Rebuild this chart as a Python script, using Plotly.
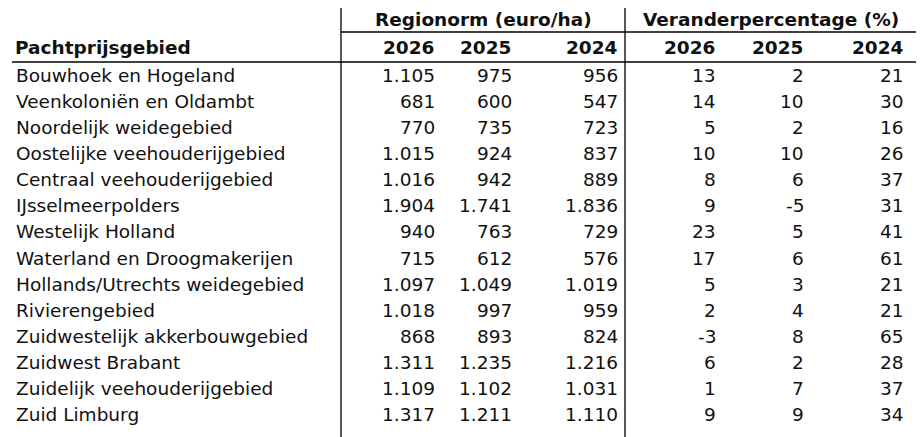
import plotly.graph_objects as go

gebieden = ["Bouwhoek en Hogeland", "Veenkoloniën en Oldambt", "Noordelijk weidegebied",
            "Oostelijke veehouderijgebied", "Centraal veehouderijgebied", "IJsselmeerpolders",
            "Westelijk Holland", "Waterland en Droogmakerijen", "Hollands/Utrechts weidegebied",
            "Rivierengebied", "Zuidwestelijk akkerbouwgebied", "Zuidwest Brabant",
            "Zuidelijk veehouderijgebied", "Zuid Limburg"]
norm_2026 = ["1.105", "681", "770", "1.015", "1.016", "1.904", "940", "715", "1.097", "1.018", "868", "1.311", "1.109", "1.317"]
norm_2025 = ["975", "600", "735", "924", "942", "1.741", "763", "612", "1.049", "997", "893", "1.235", "1.102", "1.211"]
norm_2024 = ["956", "547", "723", "837", "889", "1.836", "729", "576", "1.019", "959", "824", "1.216", "1.031", "1.110"]
pct_2026 = [13, 14, 5, 10, 8, 9, 23, 17, 5, 2, -3, 6, 1, 9]
pct_2025 = [2, 10, 2, 10, 6, -5, 5, 6, 3, 4, 8, 2, 7, 9]
pct_2024 = [21, 30, 16, 26, 37, 31, 41, 61, 21, 21, 65, 28, 37, 34]
jaren = ["2026", "2025", "2024"]

FONT = "DejaVu Sans"
fs = 18.5
row0, step = 75, 26.15
col_x = [437, 514, 620, 718, 806, 906]
columns = [norm_2026, norm_2025, norm_2024, pct_2026, pct_2025, pct_2024]

fig = go.Figure()
ann = []
for i, g in enumerate(gebieden):
    y = row0 + i * step
    ann.append(dict(x=14, y=y, text=g, xanchor="left"))
    for cx, col in zip(col_x, columns):
        ann.append(dict(x=cx, y=y, text=str(col[i]), xanchor="right"))

hdr_y = 47
ann.append(dict(x=13, y=hdr_y, text="<b>Pachtprijsgebied</b>", xanchor="left"))
for k, cx in enumerate(col_x):
    ann.append(dict(x=cx, y=hdr_y, text="<b>" + jaren[k % 3] + "</b>", xanchor="right"))
ann.append(dict(x=483, y=19, text="<b>Regionorm (euro/ha)</b>", xanchor="center"))
ann.append(dict(x=771, y=19, text="<b>Veranderpercentage (%)</b>", xanchor="center"))

for a in ann:
    a.update(xref="x", yref="y", showarrow=False, yanchor="middle",
             font=dict(family=FONT, size=fs, color="#111"))

line = dict(color="black", width=1.3)
shapes = [
    dict(type="line", x0=341, x1=341, y0=8, y1=445, line=line),
    dict(type="line", x0=625, x1=625, y0=8, y1=445, line=line),
    dict(type="line", x0=341, x1=918, y0=32, y1=32, line=line),
    dict(type="line", x0=12, x1=918, y0=62, y1=62, line=line),
]
for s in shapes:
    s.update(xref="x", yref="y")

# page adds ~8px offset, so shift the axis ranges to compensate
fig.update_layout(width=924, height=437, margin=dict(l=0, r=0, t=0, b=0),
                  plot_bgcolor="white", paper_bgcolor="white",
                  annotations=ann, shapes=shapes,
                  xaxis=dict(range=[8, 932], visible=False, fixedrange=True),
                  yaxis=dict(range=[445, 8], visible=False, fixedrange=True))
fig.write_html("out.html")
